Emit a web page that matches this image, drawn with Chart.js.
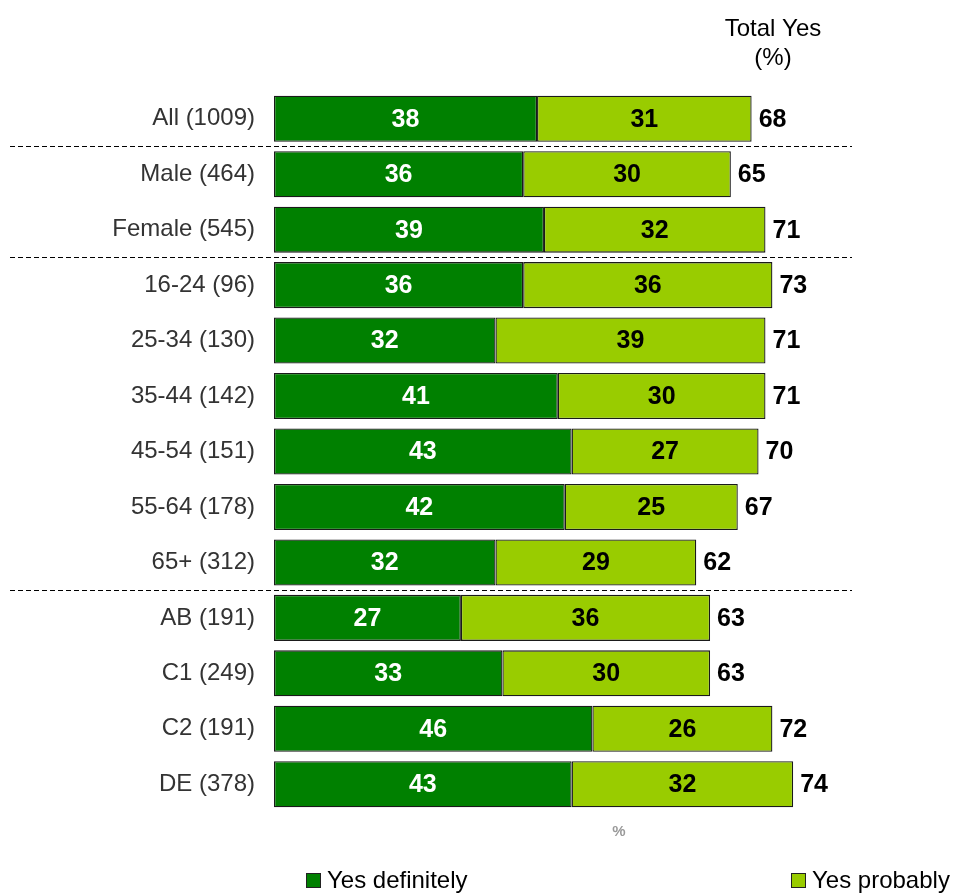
<!DOCTYPE html>
<html>
<head>
<meta charset="utf-8">
<script src="https://cdn.jsdelivr.net/npm/chart.js@4"></script>
<style>
  html, body { margin: 0; padding: 0; background: #fff; }
  #wrap { width: 953px; height: 893px; }
</style>
</head>
<body>
<div id="wrap"><canvas id="chart"></canvas></div>
<script>
const categories = ['All (1009)', 'Male (464)', 'Female (545)', '16-24 (96)', '25-34 (130)', '35-44 (142)',
    '45-54 (151)', '55-64 (178)', '65+ (312)', 'AB (191)', 'C1 (249)', 'C2 (191)', 'DE (378)'];
const yesDefinitely = [38, 36, 39, 36, 32, 41, 43, 42, 32, 27, 33, 46, 43];
const yesProbably = [31, 30, 32, 36, 39, 30, 27, 25, 29, 36, 30, 26, 32];
const totalYes = [68, 65, 71, 73, 71, 71, 70, 67, 62, 63, 63, 72, 74];
// dashed lines go after these rows
const groupBreaks = [0, 2, 8];

const FONT = '"Liberation Sans", Arial, sans-serif';

const overlay = {
    id: 'overlay',
    afterDatasetsDraw(chart) {
        const ctx = chart.ctx;
        const y = chart.scales.y;
        const area = chart.chartArea;
        ctx.save();

        // separators
        ctx.strokeStyle = '#000';
        ctx.lineWidth = 1;
        ctx.setLineDash([5, 3]);
        groupBreaks.forEach(i => {
            const yy = Math.round((y.getPixelForValue(i) + y.getPixelForValue(i + 1)) / 2) + 0.5;
            ctx.beginPath();
            ctx.moveTo(10, yy);
            ctx.lineTo(area.right, yy);
            ctx.stroke();
        });
        ctx.setLineDash([]);

        // values inside bars
        ctx.font = 'bold 25px ' + FONT;
        ctx.textAlign = 'center';
        ctx.textBaseline = 'middle';
        chart.data.datasets.forEach((ds, di) => {
            chart.getDatasetMeta(di).data.forEach((bar, i) => {
                ctx.fillStyle = di === 0 ? '#fff' : '#000';
                ctx.fillText(ds.data[i], (bar.x + bar.base) / 2, bar.y + 1);
            });
        });

        // totals
        ctx.fillStyle = '#000';
        ctx.textAlign = 'left';
        chart.getDatasetMeta(1).data.forEach((bar, i) => {
            ctx.fillText(totalYes[i], bar.x + 7, bar.y + 1);
        });

        // header
        ctx.font = '24px ' + FONT;
        ctx.textAlign = 'center';
        ctx.fillText('Total Yes', 773, 29);
        ctx.fillText('(%)', 773, 58);

        // axis label
        ctx.fillStyle = '#9a9a9a';
        ctx.font = 'bold 15px ' + FONT;
        ctx.fillText('%', 619, 832);

        // legend
        const items = [[306, 0], [791, 1]];
        ctx.font = '24px ' + FONT;
        ctx.textAlign = 'left';
        items.forEach(([lx, di]) => {
            const ds = chart.data.datasets[di];
            ctx.fillStyle = ds.backgroundColor;
            ctx.fillRect(lx, 873, 15, 15);
            ctx.strokeStyle = '#222';
            ctx.strokeRect(lx + 0.5, 873.5, 14, 14);
            ctx.fillStyle = '#000';
            ctx.fillText(ds.label, lx + 21, 881);
        });
        ctx.restore();
    }
};

new Chart(document.getElementById('chart'), {
    type: 'bar',
    data: {
        labels: categories,
        datasets: [{
            label: 'Yes definitely',
            data: yesDefinitely,
            backgroundColor: '#008000',
            borderColor: '#1a1a1a',
            borderWidth: 1.3,
            borderSkipped: false,
            barPercentage: 0.83,
            categoryPercentage: 1,
        }, {
            label: 'Yes probably',
            data: yesProbably,
            backgroundColor: '#99CC00',
            borderColor: '#1a1a1a',
            borderWidth: 1.3,
            borderSkipped: false,
            barPercentage: 0.83,
            categoryPercentage: 1,
        }],
    },
    options: {
        indexAxis: 'y',
        responsive: true,
        maintainAspectRatio: false,
        animation: false,
        layout: { padding: { top: 91, bottom: 81, left: 0, right: 101 } },
        plugins: {
            legend: { display: false },
            tooltip: { enabled: false },
        },
        scales: {
            x: {
                stacked: true,
                display: false,
                min: 0,
                max: 83.5,
            },
            y: {
                stacked: true,
                grid: { display: false, drawTicks: false },
                border: { display: false },
                ticks: {
                    padding: 19,
                    color: '#333',
                    font: { family: FONT, size: 24 },
                },
                afterFit: (scale) => { scale.width = 274; },
            },
        },
    },
    plugins: [overlay],
});
</script>
</body>
</html>
